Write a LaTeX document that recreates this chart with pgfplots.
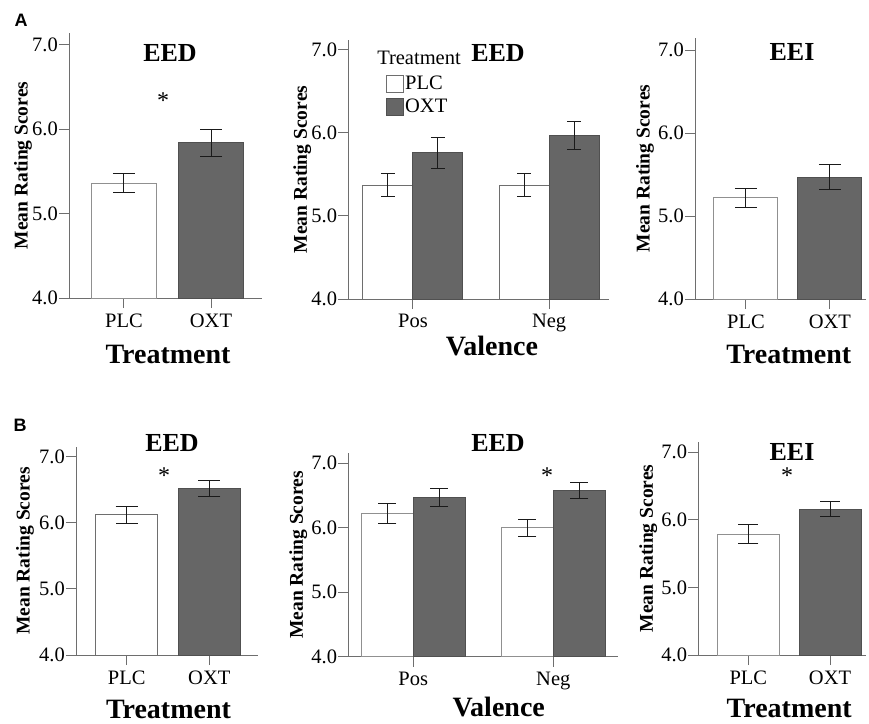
\documentclass[border=0pt]{standalone}
\usepackage{pgfplots}
\pgfplotsset{compat=1.18}
\usepackage{fontspec}
\setmainfont{Liberation Serif}
\newfontfamily\arialfont{Liberation Sans}
\definecolor{oxt}{HTML}{666666}
\definecolor{oxtedge}{HTML}{505050}
\definecolor{plcedge}{HTML}{909090}
\definecolor{axisgray}{HTML}{6E6E6E}
\definecolor{errc}{HTML}{1A1A1A}
\newcommand{\tickfont}{\fontsize{20.5}{24}\selectfont}
\newcommand{\ylabfont}{\fontsize{19.5}{23}\selectfont\bfseries}
\newcommand{\xlabfont}{\fontsize{28}{32}\selectfont\bfseries}
\newcommand{\titfont}{\fontsize{26}{30}\selectfont\bfseries}
\pgfplotsset{
  panel/.style={
    scale only axis,
    axis lines=left,
    axis line style={-, draw=axisgray, line width=1pt},
    ymin=4, ytick={4,5,6,7},
    tick align=outside, major tick length=10pt,
    tick style={draw=axisgray, line width=1pt},
    xtick={0,1},
    /pgf/number format/assume math mode=true,
    yticklabel style={font=\tickfont, inner sep=1pt,
      /pgf/number format/.cd, fixed, fixed zerofill, precision=1},
    xticklabel style={font=\tickfont, yshift=-2pt},
    ylabel={Mean Rating Scores},
    ylabel style={font=\ylabfont, at={(rel axis cs:0,0.5)}, anchor=center},
    xlabel style={font=\xlabfont, anchor=base},
    ybar=0pt,
    every axis plot/.append style={line width=1pt},
    error bars/y dir=both, error bars/y explicit,
    error bars/error mark=|,
    error bars/error bar style={draw=errc, line width=1pt},
    clip=false,
  },
  plc/.style={fill=white, draw=plcedge},
  oxtb/.style={fill=oxt, draw=oxtedge},
}
\begin{document}
\begin{tikzpicture}
\useasboundingbox (0pt,0pt) rectangle (869pt,-723pt);
% ---------------- A1
\begin{axis}[panel, at={(69pt,-298pt)}, anchor=south west,
  width=193pt, height=265pt, xmin=-0.632, xmax=1.586, ymax=7.14,
  bar width=65pt, xticklabels={PLC,OXT},
  ylabel style={yshift=46pt},
  xlabel={Treatment}, xlabel style={at={(axis cs:0.506,4)}, yshift=-65pt},
  error bars/error mark options={mark size=11pt, line width=1pt, draw=errc}]
\addplot+[plc, bar shift=0pt] coordinates {(0,5.36) +- (0,0.115)};
\addplot+[oxtb, bar shift=0pt] coordinates {(1,5.84) +- (0,0.16)};
\end{axis}
% ---------------- A2
\begin{axis}[panel, at={(348.3pt,-299pt)}, anchor=south west,
  width=260.7pt, height=259pt, xmin=-0.475, xmax=1.44, ymax=7.12,
  bar width=50pt, xticklabels={Pos,Neg},
  ylabel style={yshift=46pt},
  xlabel={Valence}, xlabel style={at={(axis cs:0.58,4)}, yshift=-56pt},
  error bars/error mark options={mark size=7pt, line width=1pt, draw=errc},
  legend style={at={(axis description cs:0.133,0.875)}, anchor=north west,
    draw=none, fill=none, font=\tickfont, row sep=5pt,
    nodes={inner sep=1pt}, column sep=0pt},
  legend cell align=left,
  legend image code/.code={\draw[#1, line width=1pt] (0pt,-8.5pt) rectangle (17pt,8.5pt);}]
\addplot+[plc, draw=axisgray] coordinates {(0,5.37) +- (0,0.14) (1,5.37) +- (0,0.14)};
\addplot+[oxtb] coordinates {(0,5.76) +- (0,0.185) (1,5.97) +- (0,0.17)};
\legend{PLC,OXT}
\end{axis}
% ---------------- A3
\begin{axis}[panel, at={(695pt,-299pt)}, anchor=south west,
  width=171pt, height=261pt, xmin=-0.607, xmax=1.43, ymax=7.145,
  bar width=64pt, xticklabels={PLC,OXT},
  ylabel style={yshift=50pt},
  xlabel={Treatment}, xlabel style={at={(axis cs:0.51,4)}, yshift=-64pt},
  error bars/error mark options={mark size=11pt, line width=1pt, draw=errc}]
\addplot+[plc, bar shift=0pt] coordinates {(0,5.22) +- (0,0.115)};
\addplot+[oxtb, bar shift=0pt] coordinates {(1,5.47) +- (0,0.145)};
\end{axis}
% ---------------- B1
\begin{axis}[panel, at={(76pt,-655pt)}, anchor=south west,
  width=182pt, height=208.3pt, xmin=-0.614, xmax=1.59, ymax=7.15,
  bar width=62pt, xticklabels={PLC,OXT},
  ylabel style={yshift=51pt},
  xlabel={Treatment}, xlabel style={at={(axis cs:0.506,4)}, yshift=-63pt},
  error bars/error mark options={mark size=11pt, line width=1pt, draw=errc}]
\addplot+[plc, draw=axisgray, bar shift=0pt] coordinates {(0,6.12) +- (0,0.13)};
\addplot+[oxtb, bar shift=0pt] coordinates {(1,6.52) +- (0,0.125)};
\end{axis}
% ---------------- B2
\begin{axis}[panel, at={(348.3pt,-656.7pt)}, anchor=south west,
  width=269.7pt, height=203.7pt, xmin=-0.464, xmax=1.462, ymax=7.16,
  bar width=52pt, xticklabels={Pos,Neg},
  ylabel style={yshift=50pt},
  xlabel={Valence}, xlabel style={at={(axis cs:0.61,4)}, yshift=-60pt},
  error bars/error mark options={mark size=9pt, line width=1pt, draw=errc}]
\addplot+[plc] coordinates {(0,6.22) +- (0,0.15) (1,6.00) +- (0,0.13)};
\addplot+[oxtb] coordinates {(0,6.47) +- (0,0.135) (1,6.58) +- (0,0.125)};
\end{axis}
% ---------------- B3
\begin{axis}[panel, at={(698.3pt,-655pt)}, anchor=south west,
  width=167.7pt, height=213.3pt, xmin=-0.612, xmax=1.44, ymax=7.157,
  bar width=62pt, xticklabels={PLC,OXT},
  ylabel style={yshift=50pt},
  xlabel={Treatment}, xlabel style={at={(axis cs:0.50,4)}, yshift=-62pt},
  error bars/error mark options={mark size=10pt, line width=1pt, draw=errc}]
\addplot+[plc, bar shift=0pt] coordinates {(0,5.79) +- (0,0.135)};
\addplot+[oxtb, bar shift=0pt] coordinates {(1,6.16) +- (0,0.105)};
\end{axis}
% ---------------- titles, stars, panel letters, legend title
\node[font=\titfont] at (170pt,-53.5pt) {EED};
\node[font=\titfont] at (498pt,-53pt) {EED};
\node[font=\titfont] at (792pt,-52pt) {EEI};
\node[font=\titfont] at (172pt,-443.5pt) {EED};
\node[font=\titfont] at (498pt,-443.5pt) {EED};
\node[font=\titfont] at (792pt,-451.5pt) {EEI};
\node[font=\fontsize{24}{28}\selectfont] at (163pt,-101pt) {*};
\node[font=\fontsize{24}{28}\selectfont] at (164pt,-476pt) {*};
\node[font=\fontsize{24}{28}\selectfont] at (547pt,-476pt) {*};
\node[font=\fontsize{24}{28}\selectfont] at (787pt,-476pt) {*};
\node[font=\arialfont\bfseries\fontsize{18}{20}\selectfont] at (21pt,-20pt) {A};
\node[font=\arialfont\bfseries\fontsize{18}{20}\selectfont] at (20pt,-425pt) {B};
\node[font=\tickfont] at (419pt,-58pt) {Treatment};
\end{tikzpicture}
\end{document}
